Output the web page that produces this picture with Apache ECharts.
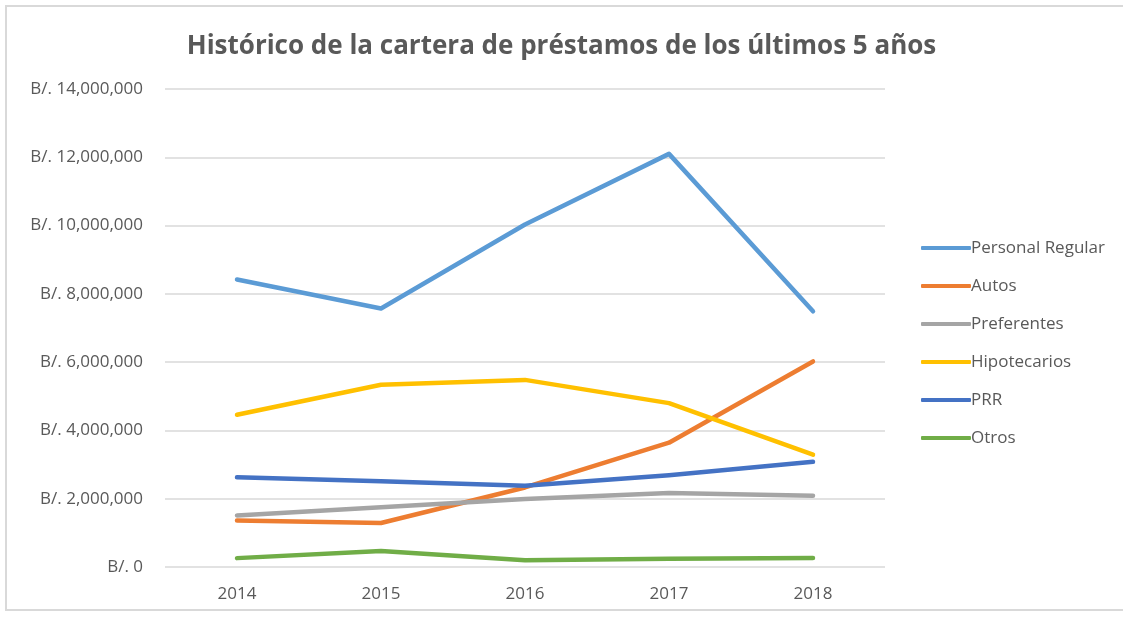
<!DOCTYPE html>
<html><head><meta charset="utf-8">
<script src="https://cdn.jsdelivr.net/npm/echarts@6/dist/echarts.min.js"></script>
<style>html,body{margin:0;padding:0;background:#fff}#frame{position:absolute;left:5px;top:5px;width:1130px;height:606px;border:2px solid #d9d9d9;box-sizing:border-box}#c{position:absolute;left:0;top:0;width:1123px;height:617px}</style>
</head><body><div id="frame"></div><div id="c"></div>
<script>
const categories = ['2014','2015','2016','2017','2018'];
const personalRegular = [8420000, 7570000, 10030000, 12100000, 7490000];
const autos = [1360000, 1290000, 2330000, 3640000, 6020000];
const preferentes = [1510000, 1750000, 1990000, 2170000, 2090000];
const hipotecarios = [4460000, 5340000, 5480000, 4800000, 3290000];
const prr = [2630000, 2510000, 2380000, 2690000, 3080000];
const otros = [260000, 470000, 200000, 240000, 260000];
const seriesNames = ['Personal Regular','Autos','Preferentes','Hipotecarios','PRR','Otros'];
const colors = ['#5B9BD5','#ED7D31','#A5A5A5','#FFC000','#4472C4','#70AD47'];
const dataList = [personalRegular, autos, preferentes, hipotecarios, prr, otros];

const chart = echarts.init(document.getElementById('c'));
const font = 'Open Sans, Liberation Sans, sans-serif';
chart.setOption({
  animation:false,
  color: colors,
  title:{text:'Histórico de la cartera de préstamos de los últimos 5 años',left:'center',top:29,
    textStyle:{fontFamily:font,fontSize:26,fontWeight:'bold',color:'#595959'}},
  grid:{left:165,right:238,top:89,bottom:50},
  legend:{orient:'vertical',left:916,top:232,itemGap:16,itemWidth:50,itemHeight:4,
    icon:'roundRect',
    textStyle:{fontFamily:font,fontSize:17,color:'#595959',padding:[0,0,0,-5],lineHeight:22},
    data:seriesNames},
  xAxis:{type:'category',data:categories,boundaryGap:true,
    axisLine:{show:false},axisTick:{show:false},
    axisLabel:{fontFamily:font,fontSize:17,color:'#595959',margin:19}},
  yAxis:{type:'value',min:0,max:14000000,interval:2000000,
    axisLine:{show:false},axisTick:{show:false},
    splitLine:{lineStyle:{color:'#d9d9d9',width:1.5}},
    axisLabel:{fontFamily:font,fontSize:17,color:'#595959',margin:22,
      formatter:v=>'B/. '+v.toLocaleString('en-US')}},
  series: seriesNames.map((n,i)=>({name:n,type:'line',data:dataList[i],symbol:'none',
    lineStyle:{width:4.5,color:colors[i],cap:'round',join:'round'},itemStyle:{color:colors[i]}}))
});
</script></body></html>
